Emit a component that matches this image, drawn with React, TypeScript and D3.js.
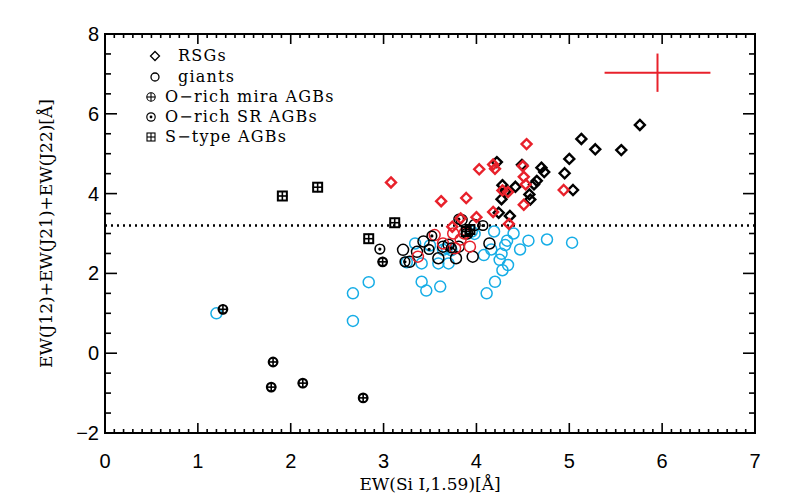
import * as d3 from 'd3';

// [EW(Si I), EW(J12)+EW(J21)+EW(J22)]
const rsgBlack: [number, number][] = [
  [5.76, 5.72], [5.13, 5.37], [5.28, 5.11], [5.56, 5.09], [5.0, 4.87], [4.95, 4.51],
  [5.04, 4.09], [4.7, 4.65], [4.73, 4.54], [4.65, 4.32], [4.62, 4.23], [4.49, 4.72],
  [4.42, 4.17], [4.57, 3.98], [4.58, 3.85], [4.28, 4.21], [4.27, 3.86], [4.22, 4.79],
  [4.24, 3.52], [4.36, 3.44], [4.31, 4.05],
];
const rsgRed: [number, number][] = [
  [4.54, 5.24], [3.08, 4.28], [4.03, 4.61], [4.18, 4.73], [4.2, 4.62], [4.5, 4.69],
  [4.51, 4.42], [4.53, 4.23], [4.28, 4.08], [4.34, 4.04], [4.94, 4.09], [4.51, 3.72],
  [3.89, 3.89], [3.62, 3.81], [4.18, 3.54], [4.0, 3.41], [4.35, 3.24], [3.83, 3.38],
  [3.74, 3.17],
];
const giantsBlack: [number, number][] = [
  [3.21, 2.59], [3.36, 2.54], [3.43, 2.8], [3.59, 2.38], [3.78, 2.38], [3.96, 2.42],
  [4.14, 2.75], [3.64, 2.67], [3.81, 2.67], [3.98, 3.21], [3.84, 3.34], [3.28, 2.29],
  [3.7, 2.72], [3.9, 3.0],
];
const giantsRed: [number, number][] = [
  [3.55, 2.96], [3.37, 2.42], [3.64, 2.75], [3.93, 2.67], [3.75, 3.0], [3.83, 2.85],
  [3.77, 2.63], [3.87, 3.0],
];
const giantsCyan: [number, number][] = [
  [1.2, 1.0], [2.67, 1.5], [2.67, 0.81], [2.84, 1.78], [3.34, 2.75], [3.41, 2.25],
  [3.59, 2.25], [3.7, 2.25], [3.41, 1.79], [3.46, 1.57], [3.61, 1.67], [4.11, 1.5],
  [4.2, 1.79], [4.28, 2.08], [4.34, 2.21], [4.25, 2.34], [4.27, 2.49], [4.47, 2.6],
  [4.56, 2.82], [4.76, 2.85], [5.03, 2.77], [4.31, 2.71], [4.33, 2.82], [4.4, 3.0],
  [4.19, 3.05], [4.08, 2.46], [4.16, 2.6], [3.64, 2.59], [3.98, 2.99], [3.25, 2.28],
  [3.68, 2.63], [3.73, 2.58], [3.95, 3.05], [3.5, 2.7],
];
const miraAGB: [number, number][] = [
  [1.27, 1.1], [1.81, -0.22], [1.79, -0.85], [2.13, -0.75], [2.78, -1.12], [2.99, 2.29],
];
const srAGB: [number, number][] = [
  [2.96, 2.61], [3.23, 2.29], [3.52, 2.94], [3.49, 2.6], [4.07, 3.2], [3.73, 2.64], [3.81, 3.36],
];
const sTypeAGB: [number, number][] = [
  [1.91, 3.94], [2.29, 4.16], [2.84, 2.87], [3.12, 3.27], [3.89, 3.05], [3.93, 3.1],
];

const legendItems = ['RSGs', 'giants', 'O\u2212rich mira AGBs', 'O\u2212rich SR AGBs', 'S\u2212type AGBs'];
const xTicks = [0, 1, 2, 3, 4, 5, 6, 7];
const yTicks = [-2, 0, 2, 4, 6, 8];
const threshold = 3.2;
const errBar = { x: 5.95, y: 7.03, dx: 0.57, dy: 0.48 };

const RED = '#e8212b';
const CYAN = '#16ade6';
const serif = '"DejaVu Serif", serif';
const sans = '"Liberation Sans", Arial, sans-serif';

const W = 786, H = 500;
const L = 105, R = 755, T = 34, B = 433;

const x = d3.scaleLinear().domain([0, 7]).range([L, R]);
const y = d3.scaleLinear().domain([-2, 8]).range([B, T]);

const Diamond = ({ cx, cy, color }: { cx: number; cy: number; color: string }) => (
  <path d={`M${cx},${cy - 5}L${cx + 5},${cy}L${cx},${cy + 5}L${cx - 5},${cy}Z`} fill="none" stroke={color} strokeWidth={2.4} />
);
const Ring = ({ cx, cy, color }: { cx: number; cy: number; color: string }) => (
  <circle cx={cx} cy={cy} r={5.5} fill="none" stroke={color} strokeWidth={1.5} />
);
const Mira = ({ cx, cy }: { cx: number; cy: number }) => (
  <g stroke="#000">
    <circle cx={cx} cy={cy} r={4.3} fill="none" strokeWidth={2.2} />
    <line x1={cx - 5} x2={cx + 5} y1={cy} y2={cy} strokeWidth={1.6} />
    <line x1={cx} x2={cx} y1={cy - 5} y2={cy + 5} strokeWidth={1.6} />
  </g>
);
const SR = ({ cx, cy }: { cx: number; cy: number }) => (
  <g>
    <circle cx={cx} cy={cy} r={4.8} fill="none" stroke="#000" strokeWidth={1.6} />
    <circle cx={cx} cy={cy} r={1.6} fill="#000" />
  </g>
);
const SType = ({ cx, cy }: { cx: number; cy: number }) => (
  <g stroke="#000">
    <rect x={cx - 4.5} y={cy - 4.5} width={9} height={9} fill="none" strokeWidth={2} />
    <line x1={cx - 5} x2={cx + 5} y1={cy} y2={cy} strokeWidth={1.6} />
    <line x1={cx} x2={cx} y1={cy - 5} y2={cy + 5} strokeWidth={1.6} />
  </g>
);

export default function App() {
  const xMinor = d3.range(0, 70.5, 1).map(v => v / 10);
  const yMinor = d3.range(-4, 16.5, 1).map(v => v / 2);
  const isXMajor = (v: number) => Math.abs(v - Math.round(v)) < 1e-6;
  const isYMajor = (v: number) => Math.abs(v / 2 - Math.round(v / 2)) < 1e-6;

  const legendY = [56, 77, 97, 117, 137];
  const legendSym = (i: number, cx: number, cy: number) => {
    if (i === 0) return <path d={`M${cx},${cy - 4.5}L${cx + 4.5},${cy}L${cx},${cy + 4.5}L${cx - 4.5},${cy}Z`} fill="none" stroke="#000" strokeWidth={1.3} />;
    if (i === 1) return <circle cx={cx} cy={cy} r={4} fill="none" stroke="#000" strokeWidth={1.3} />;
    if (i === 2) return (
      <g stroke="#000" strokeWidth={1.1}>
        <circle cx={cx} cy={cy} r={4.2} fill="none" />
        <line x1={cx - 4.2} x2={cx + 4.2} y1={cy} y2={cy} />
        <line x1={cx} x2={cx} y1={cy - 4.2} y2={cy + 4.2} />
      </g>
    );
    if (i === 3) return (
      <g>
        <circle cx={cx} cy={cy} r={4.2} fill="none" stroke="#000" strokeWidth={1.2} />
        <circle cx={cx} cy={cy} r={1.4} fill="#000" />
      </g>
    );
    return (
      <g stroke="#000" strokeWidth={1.1}>
        <rect x={cx - 4} y={cy - 4} width={8} height={8} fill="none" />
        <line x1={cx - 4} x2={cx + 4} y1={cy} y2={cy} />
        <line x1={cx} x2={cx} y1={cy - 4} y2={cy + 4} />
      </g>
    );
  };

  return (
    <svg width={W} height={H} style={{ position: 'absolute', left: 0, top: 0, background: '#fff' }}>
      {/* threshold line */}
      <line x1={L} x2={R} y1={y(threshold)} y2={y(threshold)} stroke="#000" strokeWidth={2.4} strokeDasharray="2,4" />

      {/* data */}
      {giantsCyan.map((d, i) => <Ring key={`c${i}`} cx={x(d[0])} cy={y(d[1])} color={CYAN} />)}
      {giantsBlack.map((d, i) => <Ring key={`b${i}`} cx={x(d[0])} cy={y(d[1])} color="#000" />)}
      {giantsRed.map((d, i) => <Ring key={`r${i}`} cx={x(d[0])} cy={y(d[1])} color={RED} />)}
      {srAGB.map((d, i) => <SR key={`s${i}`} cx={x(d[0])} cy={y(d[1])} />)}
      {miraAGB.map((d, i) => <Mira key={`m${i}`} cx={x(d[0])} cy={y(d[1])} />)}
      {sTypeAGB.map((d, i) => <SType key={`t${i}`} cx={x(d[0])} cy={y(d[1])} />)}
      {rsgBlack.map((d, i) => <Diamond key={`db${i}`} cx={x(d[0])} cy={y(d[1])} color="#000" />)}
      {rsgRed.map((d, i) => <Diamond key={`dr${i}`} cx={x(d[0])} cy={y(d[1])} color={RED} />)}

      {/* typical error bar */}
      <g stroke={RED} strokeWidth={2}>
        <line x1={x(errBar.x - errBar.dx)} x2={x(errBar.x + errBar.dx)} y1={y(errBar.y)} y2={y(errBar.y)} />
        <line x1={x(errBar.x)} x2={x(errBar.x)} y1={y(errBar.y - errBar.dy)} y2={y(errBar.y + errBar.dy)} />
      </g>

      {/* frame and ticks */}
      <rect x={L} y={T} width={R - L} height={B - T} fill="none" stroke="#000" strokeWidth={2} />
      <g stroke="#000" strokeWidth={1.6}>
        {xMinor.map(v => {
          const len = isXMajor(v) ? 10 : 4;
          return (
            <g key={`xt${v}`}>
              <line x1={x(v)} x2={x(v)} y1={B} y2={B - len} />
              <line x1={x(v)} x2={x(v)} y1={T} y2={T + len} />
            </g>
          );
        })}
        {yMinor.map(v => {
          const len = isYMajor(v) ? 12 : 6;
          return (
            <g key={`yt${v}`}>
              <line x1={L} x2={L + len} y1={y(v)} y2={y(v)} />
              <line x1={R} x2={R - len} y1={y(v)} y2={y(v)} />
            </g>
          );
        })}
      </g>

      {/* tick labels */}
      <g fontFamily={sans} fontSize={20} fill="#000">
        {xTicks.map(v => (
          <text key={`xl${v}`} x={x(v)} y={B + 35} textAnchor="middle">{v}</text>
        ))}
        {yTicks.map(v => (
          <text key={`yl${v}`} x={L - 6} y={y(v) + 7} textAnchor="end">{v < 0 ? `\u2212${-v}` : v}</text>
        ))}
      </g>

      {/* axis titles */}
      <text x={(L + R) / 2} y={490} textAnchor="middle" fontFamily={serif} fontSize={17}>EW(Si I,1.59)[Å]</text>
      <text transform={`translate(52,${(T + B) / 2}) rotate(-90)`} textAnchor="middle" fontFamily={serif} fontSize={17}>EW(J12)+EW(J21)+EW(J22)[Å]</text>

      {/* legend */}
      {legendItems.map((t, i) => (
        <g key={t}>
          {legendSym(i, i < 2 ? 155 : 151, legendY[i])}
          <text x={i < 2 ? 178 : 165} y={legendY[i] + 5} fontFamily={serif} fontSize={16} letterSpacing={1.2}>{t}</text>
        </g>
      ))}
    </svg>
  );
}
